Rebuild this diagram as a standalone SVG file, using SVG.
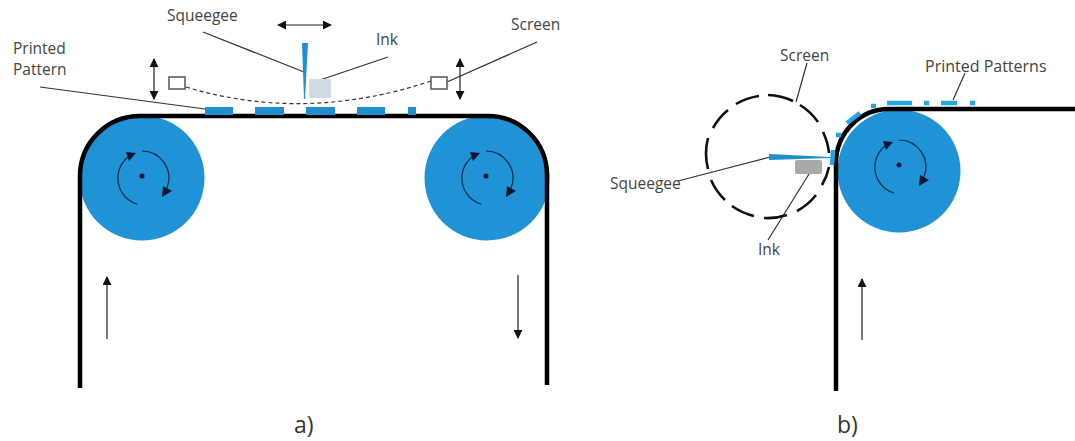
<svg xmlns="http://www.w3.org/2000/svg" width="1075" height="441" viewBox="0 0 1075 441">
<style>
text{font-family:"Open Sans","Liberation Sans",sans-serif;font-size:15.5px;fill:#444}
.cap{font-size:23px;fill:#333}
.belt{fill:none;stroke:#000;stroke-width:4.5}
.roller{fill:#2092d6}
.lead{fill:none;stroke:#333;stroke-width:1.2}
.arr{fill:none;stroke:#222;stroke-width:1.2}
.turn{fill:none;stroke:#0b2a45;stroke-width:1.2}
.blue{fill:#1f8fd0}
.head{fill:#0b1830}
.frame{fill:#fff;stroke:#555;stroke-width:1.5}
.print{fill:none;stroke:#1fa9e0;stroke-width:4.5}
</style>
<defs>
<marker id="ah" viewBox="0 0 10 10" refX="9" refY="5" markerWidth="9" markerHeight="9" markerUnits="userSpaceOnUse" orient="auto-start-reverse"><path d="M0,0L10,5L0,10Z" fill="#111"/></marker>
<g id="spin">
<circle cx="0" cy="0" r="2.5" fill="#0b1830"/>
<path class="turn" d="M-5,28A27,27 0 0 1 -11,-21"/>
<path class="turn" d="M0,-25A27,27 0 0 1 25,12"/>
<path class="head" d="M-16,-24L-6,-23L-13,-15Z"/>
<path class="head" d="M20,21L30,15L21,10Z"/>
</g>
</defs>
<g id="connectors">
<path class="lead" d="M203,32L304,72"/>
<path class="lead" d="M388,57L320,80"/>
<path class="lead" d="M537,42L447,82"/>
<path class="lead" d="M40,87L205,109"/>
<path class="lead" d="M807,63L796,102"/>
<path class="lead" d="M965,73L953,100"/>
<path class="lead" d="M678,181L770,157"/>
<path class="lead" d="M768,240L809,174"/>
<path fill="none" stroke="#333" stroke-width="1.2" stroke-dasharray="4 3" d="M186,87Q305,123 431,81"/>
<path class="arr" marker-start="url(#ah)" marker-end="url(#ah)" d="M278,25H331"/>
<path class="arr" marker-start="url(#ah)" marker-end="url(#ah)" d="M154,59V99"/>
<path class="arr" marker-start="url(#ah)" marker-end="url(#ah)" d="M460,59V99"/>
<path class="arr" marker-end="url(#ah)" d="M107,339V277"/>
<path class="arr" marker-end="url(#ah)" d="M518,275V338"/>
<path class="arr" marker-end="url(#ah)" d="M862,340V279"/>
</g>
<g id="roller-a-left"><circle class="roller" cx="142" cy="178" r="62.5"/><use href="#spin" x="142" y="176"/></g>
<g id="roller-a-right"><circle class="roller" cx="487" cy="178" r="62.5"/><use href="#spin" x="486" y="176"/></g>
<g id="roller-b"><circle class="roller" cx="899" cy="171" r="61.5"/><use href="#spin" x="899" y="165"/></g>
<g id="belt-a"><path class="belt" d="M80,388V176A60,60 0 0 1 140,116H488A59,59 0 0 1 547,175V385"/></g>
<g id="belt-b"><path class="belt" d="M836,391V163A53,54 0 0 1 889,109H1075"/></g>
<g id="printed-pattern">
<rect class="blue" x="205" y="107" width="28" height="8"/>
<rect class="blue" x="255" y="107" width="29" height="8"/>
<rect class="blue" x="306" y="107" width="29" height="8"/>
<rect class="blue" x="357" y="107" width="28" height="8"/>
<rect class="blue" x="408" y="107" width="8" height="8"/>
</g>
<g id="squeegee-a"><path class="blue" d="M302,43H308L305,99H304Z"/></g>
<g id="ink-a"><rect x="309" y="79" width="22" height="19" rx="2" fill="#d2dae6"/></g>
<g id="frame-left"><rect class="frame" x="169" y="77" width="16" height="12"/></g>
<g id="frame-right"><rect class="frame" x="431" y="77" width="16" height="12"/></g>
<g id="screen-b"><path fill="none" stroke="#111" stroke-width="2.6" d="M768,95A61.5,61.5 0 0 1 793,101M800,105A61.5,61.5 0 0 1 818,122M823,132A61.5,61.5 0 0 1 829,153M829,167A61.5,61.5 0 0 1 822,185M816,195A61.5,61.5 0 0 1 797,211M787,215A61.5,61.5 0 0 1 764,218M754,216A61.5,61.5 0 0 1 732,206M725,200A61.5,61.5 0 0 1 711,180M708,169A61.5,61.5 0 0 1 708,138M713,128A61.5,61.5 0 0 1 728,110M736,104A61.5,61.5 0 0 1 759,96"/></g>
<g id="squeegee-b"><path class="blue" d="M769,154L830,157V158L769,160Z"/></g>
<g id="ink-b"><rect x="795" y="160" width="27" height="14" rx="2" fill="#a9a9a9"/></g>
<g id="printed-patterns-b"><path class="print" d="M833,150L832,165M847,123L860,113M836,135H841M871,106H876M887,103H912M924,103H929M941,103H957M970,103H975"/></g>
<g id="labels">
<text x="167" y="21">Squeegee</text>
<text x="376" y="45">Ink</text>
<text x="511" y="30">Screen</text>
<text x="13" y="54">Printed</text>
<text x="13" y="75">Pattern</text>
<text x="780" y="61">Screen</text>
<text x="925" y="72" style="font-size:16px">Printed Patterns</text>
<text x="610" y="189">Squeegee</text>
<text x="758" y="255">Ink</text>
<text class="cap" x="294" y="433">a)</text>
<text class="cap" x="837" y="433">b)</text>
</g>
</svg>
